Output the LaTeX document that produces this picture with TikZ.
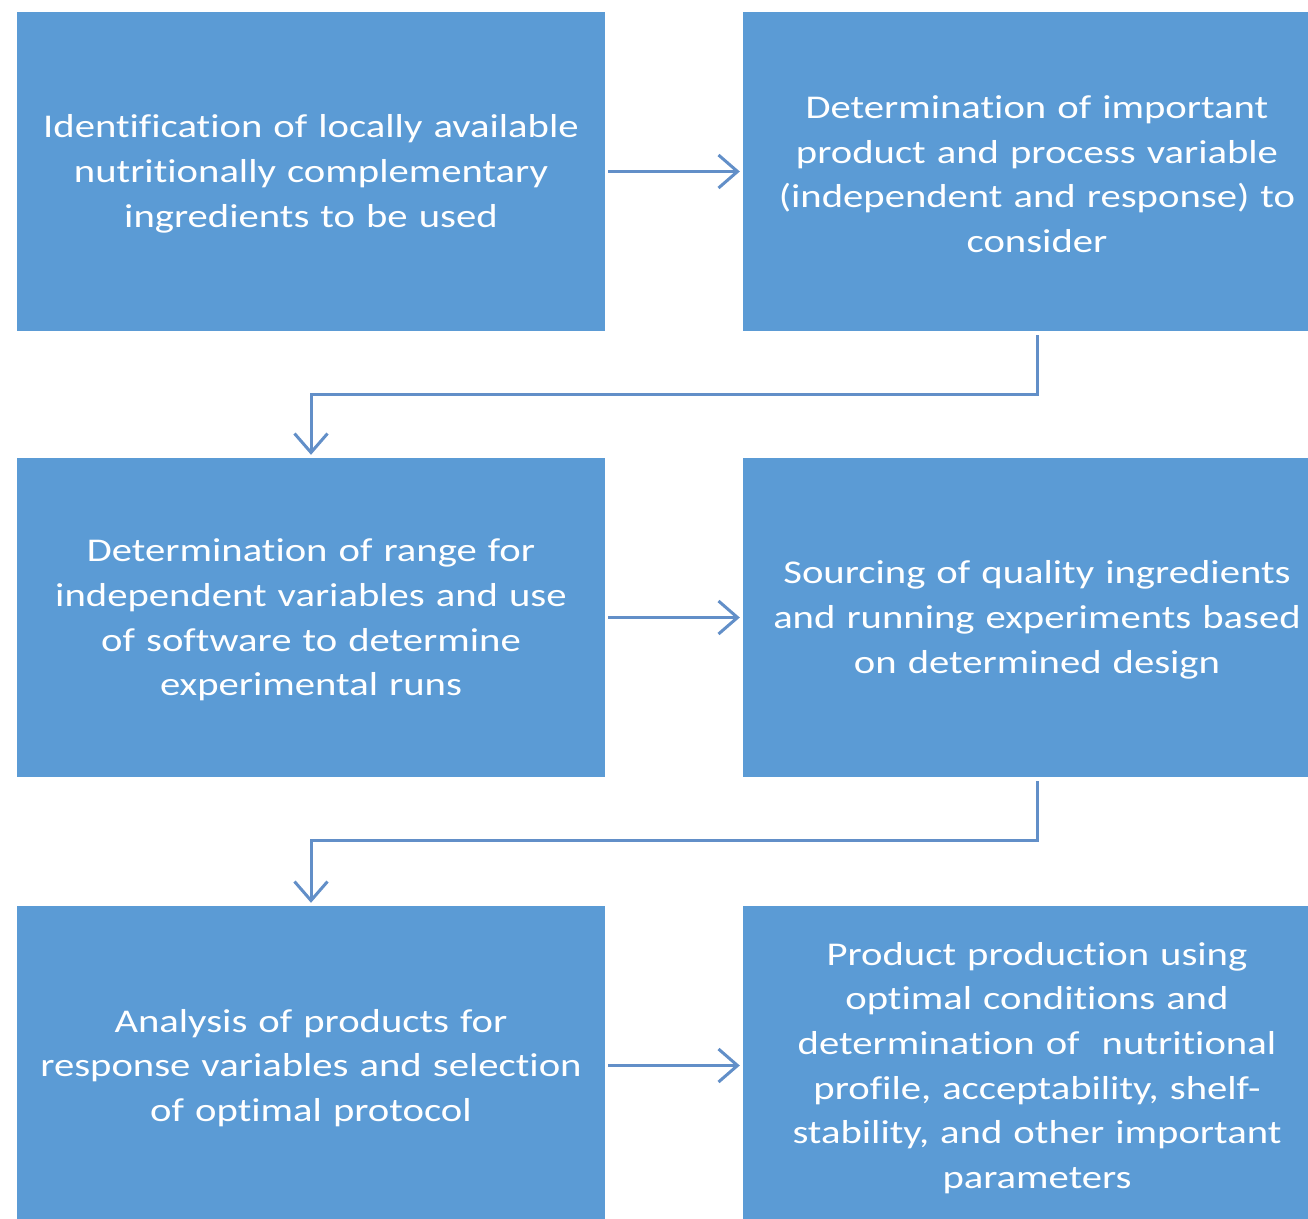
\documentclass[tikz,border=0pt]{standalone}
\usepackage{fontspec}
\setmainfont{Carlito}[Ligatures={NoCommon}, FakeStretch=1.225]
\usetikzlibrary{arrows.meta}
\definecolor{boxblue}{RGB}{91,155,213}
\definecolor{arrowblue}{RGB}{98,143,200}
\tikzset{
  stepbox/.style={rectangle, fill=boxblue, draw=none, minimum width=588pt, minimum height=319pt,
    text=white, align=center, text width=586pt, inner sep=0pt,
    font=\fontsize{33.2}{44.7}\selectfont},
  conn/.style={draw=arrowblue, line width=3pt, -{Straight Barb[length=19pt,width=33pt]}}
}
\newcommand{\dn}{\rule{0pt}{28pt}}
\begin{document}
\begin{tikzpicture}[x=1pt,y=-1pt]
\useasboundingbox (0,0) rectangle (1308,1218);
\clip (0,0) rectangle (1308,1218);
\fill[white] (0,0) rectangle (1308,1218);
\node[stepbox] (b1) at (311,171.5) {\dn Identification of locally available\\nutritionally complementary\\ingredients to be used};
\node[stepbox] (b2) at (1037,171.5) {\dn Determination of important\\product and process variable\\(independent and response) to\\consider};
\node[stepbox] (b3) at (311,617.5) {\dn Determination of range for\\independent variables and use\\of software to determine\\experimental runs};
\node[stepbox] (b4) at (1037,617.5) {\dn Sourcing of quality ingredients\\and running experiments based\\on determined design};
\node[stepbox] (b5) at (311,1065.5) {\dn Analysis of products for\\response variables and selection\\of optimal protocol};
\node[stepbox] (b6) at (1037,1065.5) {\dn Product production using\\optimal conditions and\\determination of \ nutritional\\profile, acceptability, shelf-\\stability, and other important\\parameters};
\draw[conn, shorten <=3pt, shorten >=3pt] (b1) -- (b2);
\draw[conn, shorten <=3pt, shorten >=3pt] (b3) -- (b4);
\draw[conn, shorten <=3pt, shorten >=3pt] (b5) -- (b6);
\draw[conn, shorten <=4pt, shorten >=3pt] (b2.south) -- ++(0,63) -| (b3.north);
\draw[conn, shorten <=4pt, shorten >=3pt] (b4.south) -- ++(0,63) -| (b5.north);
\end{tikzpicture}
\end{document}
